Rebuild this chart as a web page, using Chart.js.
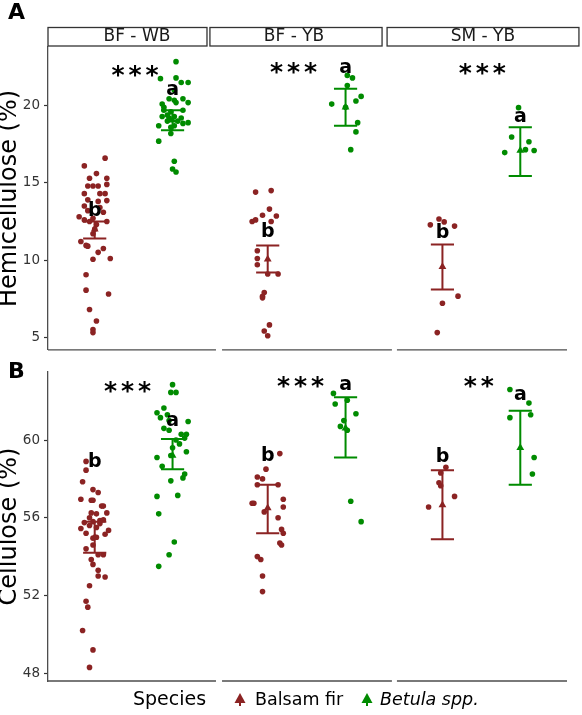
<!DOCTYPE html>
<html>
<head>
<meta charset="utf-8">
<script src="https://cdn.jsdelivr.net/npm/chart.js@4.4.0/dist/chart.umd.min.js"></script>
<style>
  body { margin: 0; background: #fff; }
  #wrap { position: relative; width: 582px; height: 715px; }
  .row { position: absolute; left: 0; width: 582px; }
</style>
</head>
<body>
<div id="wrap">
  <div class="row" style="top:0;height:362px"><canvas id="hemi"></canvas></div>
  <div class="row" style="top:358px;height:357px"><canvas id="cel"></canvas></div>
</div>
<script>
// facets and species
const facets = ['BF - WB', 'BF - YB', 'SM - YB'];
const species = ['Balsam fir', 'Betula spp.'];
const letters = [['b', 'b', 'b'], ['a', 'a', 'a']];
const hemiStars = ['***', '***', '***'];
const celStars = ['***', '***', '**'];
const hemiTicks = [5, 10, 15, 20];
const celTicks = [48, 52, 56, 60];

// Hemicellulose (%) - one list per facet
const hemiFir = [
    [16.6, 16.1, 15.6, 15.3, 15.3, 14.8, 14.8, 14.8, 14.9, 14.3, 14.3, 14.3, 13.9, 13.8, 13.85, 13.5, 13.4, 13.2, 13.1, 12.8, 12.6, 12.5, 12.5, 12.7, 12.3, 12.0, 11.7, 11.2, 10.95, 10.9, 10.75, 10.5, 10.05, 10.1, 9.05, 8.05, 7.8, 6.8, 6.05, 5.5, 5.3],
    [14.4, 14.5, 13.3, 12.9, 12.85, 12.5, 12.6, 12.5, 10.6, 10.1, 9.7, 9.1, 9.1, 7.9, 7.65, 7.55, 5.8, 5.4, 5.1],
    [12.66, 12.47, 12.28, 12.2, 7.66, 7.2, 5.3]
];
const hemiBirch = [
    [22.85, 21.75, 21.8, 21.5, 21.5, 21.0, 20.45, 20.35, 20.45, 20.2, 20.1, 20.2, 19.9, 19.7, 19.7, 19.6, 19.3, 19.2, 19.3, 19.2, 18.7, 19.0, 18.85, 18.9, 18.7, 18.6, 18.2, 17.7, 16.4, 15.9, 15.7, 19.0, 19.4],
    [21.96, 21.8, 21.3, 20.6, 20.1, 20.3, 19.9, 18.9, 18.3, 17.15],
    [19.87, 17.97, 17.66, 16.96, 17.15, 17.1]
];
// horizontal jitter (x units)
const hemiFirJit = [
    [0.06, -0.06, 0.01, -0.03, 0.07, -0.04, -0.01, 0.02, 0.07, -0.06, 0.03, 0.06, -0.04, 0.02, 0.07, -0.06, 0.03, -0.04, 0.05, -0.09, -0.06, -0.03, 0.07, -0.01, 0.01, 0, -0.01, -0.08, -0.05, -0.04, 0.05, 0.02, -0.01, 0.09, -0.05, -0.05, 0.08, -0.03, 0.01, -0.01, -0.01],
    [-0.07, 0.02, 0.01, -0.03, 0.05, -0.09, -0.07, 0.02, -0.06, -0.06, -0.06, 0, 0.06, -0.02, -0.03, -0.03, 0.01, -0.02, 0],
    [-0.02, 0.01, -0.07, 0.07, 0.09, 0, -0.03]
];
const hemiBirchJit = [
    [0.02, -0.07, 0.02, 0.05, 0.09, 0.01, -0.02, 0.01, 0.06, 0.09, -0.06, 0.02, -0.05, -0.05, 0.06, -0.01, -0.06, -0.02, 0.01, 0.05, -0.08, -0.03, 0.06, 0.09, 0.01, -0.01, -0.01, -0.08, 0.01, 0, 0.02, 0.03, -0.03],
    [0.01, 0.04, 0.01, 0.09, -0.08, 0.06, 0, 0.07, 0.06, 0.03],
    [-0.01, -0.05, 0.05, -0.09, 0.03, 0.08]
];
const hemiMean = [[12.0, 10.05, 9.56], [19.05, 19.9, 17.1]];
const hemiLow = [[11.4, 9.2, 8.1], [18.4, 18.7, 15.45]];
const hemiHigh = [[12.5, 10.95, 11.0], [19.7, 21.1, 18.6]];

// Cellulose (%)
const celFir = [
    [58.9, 58.45, 57.85, 57.45, 57.3, 56.95, 56.9, 56.9, 56.6, 56.6, 56.25, 56.2, 56.25, 55.75, 55.8, 55.85, 55.45, 55.2, 55.35, 55.15, 54.95, 55.5, 55.6, 54.4, 54.6, 54.1, 54.1, 53.85, 53.6, 53.3, 53.0, 52.95, 52.5, 51.7, 51.4, 50.2, 49.2, 48.3, 55.0, 55.7, 56.0, 55.9],
    [59.3, 58.5, 58.1, 58.0, 57.7, 57.7, 56.95, 56.75, 56.75, 56.55, 56.0, 55.4, 55.2, 54.7, 54.6, 54.0, 53.85, 53.0, 52.2, 56.3],
    [58.6, 58.3, 57.8, 57.65, 57.1, 56.55]
];
const celBirch = [
    [62.85, 62.45, 62.45, 61.65, 61.4, 61.15, 61.0, 60.95, 60.6, 60.5, 60.3, 60.3, 60.1, 59.6, 59.4, 59.1, 59.2, 58.65, 58.25, 58.05, 57.9, 57.1, 57.15, 56.2, 54.75, 54.1, 53.5, 61.3, 60.0, 59.8],
    [62.4, 61.85, 62.05, 61.35, 61.0, 60.7, 60.5, 56.85, 55.8],
    [62.6, 61.9, 61.15, 61.3, 59.1, 58.25]
];
const celFirJit = [
    [-0.05, -0.05, -0.07, -0.01, 0.02, -0.08, -0.02, -0.01, 0.04, 0.05, -0.02, 0.01, 0.07, -0.06, -0.01, 0.03, -0.08, -0.05, 0.08, 0.06, -0.01, 0.01, -0.03, -0.05, -0.01, 0.02, 0.05, -0.02, -0.01, 0.02, 0.02, 0.06, -0.03, -0.05, -0.04, -0.07, -0.01, -0.03, 0.01, 0.03, -0.03, 0.05],
    [0.07, -0.01, -0.06, -0.03, -0.06, 0.06, 0.09, -0.09, -0.08, 0.09, 0.06, 0.08, 0.09, 0.07, 0.08, -0.06, -0.04, -0.03, -0.03, -0.02],
    [0.02, -0.01, -0.02, -0.01, 0.07, -0.08]
];
const celBirchJit = [
    [0, -0.01, 0.02, -0.05, -0.09, -0.07, -0.02, 0.09, -0.05, -0.02, 0.05, 0.08, 0.07, 0, 0.08, -0.09, -0.01, -0.06, 0.07, 0.06, -0.01, -0.09, 0.03, -0.08, 0.01, -0.02, -0.08, -0.03, 0.02, 0.04],
    [-0.07, -0.06, 0.01, 0.06, -0.01, -0.03, 0.01, 0.03, 0.09],
    [-0.06, 0.05, -0.06, 0.06, 0.08, 0.07]
];
const celMean = [[55.0, 56.5, 56.65], [59.2, 60.6, 59.6]];
const celLow = [[54.2, 55.2, 54.9], [58.5, 59.1, 57.7]];
const celHigh = [[55.8, 57.7, 58.45], [60.05, 62.2, 61.5]];

// ---- layout / style ----
const FONT = "'DejaVu Sans', sans-serif";
const colors = ['#8b2323', '#008b00'];
const axisColor = '#4d4d4d';
const facetBase = [0, 1, 2.01];
const spPos = [0.27, 0.72];
const capW = 0.067;
const panelSpans = [[0, 0.971], [1.006, 1.988], [2.017, 3]];

Chart.defaults.font.family = FONT;

function decor(cfg) {
    return {
        id: 'decor',
        afterDraw(chart) {
            const ctx = chart.ctx;
            const xs = chart.scales.x, ys = chart.scales.y, ca = chart.chartArea;
            ctx.save();

            // broken x axis line, one piece per facet
            ctx.strokeStyle = axisColor;
            ctx.lineWidth = 1.3;
            panelSpans.forEach(([a, b]) => {
                ctx.beginPath();
                ctx.moveTo(xs.getPixelForValue(a), ca.bottom);
                ctx.lineTo(xs.getPixelForValue(b), ca.bottom);
                ctx.stroke();
            });

            // facet strips (top row only)
            if (cfg.strips) {
                ctx.font = '17px ' + FONT;
                ctx.textAlign = 'center';
                ctx.textBaseline = 'middle';
                cfg.strips.forEach(([a, b, mid], i) => {
                    const x0 = xs.getPixelForValue(a), x1 = xs.getPixelForValue(b);
                    ctx.fillStyle = '#fff';
                    ctx.fillRect(x0, 27.5, x1 - x0, 18.5);
                    ctx.strokeStyle = '#333';
                    ctx.lineWidth = 1.3;
                    ctx.strokeRect(x0, 27.5, x1 - x0, 18.5);
                    ctx.fillStyle = '#1a1a1a';
                    ctx.fillText(facets[i], xs.getPixelForValue(mid), 37);
                });
            }

            // panel tag
            ctx.fillStyle = '#000';
            ctx.font = 'bold 22px ' + FONT;
            ctx.textAlign = 'left';
            ctx.textBaseline = 'alphabetic';
            ctx.fillText(cfg.tag, 8, cfg.tagY);

            // group letters
            ctx.font = 'bold 19px ' + FONT;
            ctx.textAlign = 'center';
            ctx.textBaseline = 'middle';
            for (let s = 0; s < 2; s++) {
                for (let f = 0; f < 3; f++) {
                    ctx.fillText(letters[s][f],
                        xs.getPixelForValue(facetBase[f] + spPos[s]),
                        ys.getPixelForValue(cfg.letterY[s][f]));
                }
            }

            // significance stars, one glyph at a time for the wide spacing
            ctx.font = 'bold 25px ' + FONT;
            cfg.stars.forEach((t, f) => {
                const cx = xs.getPixelForValue(cfg.starX[f]);
                const cy = ys.getPixelForValue(cfg.starY[f]) + 6;
                const n = t.length;
                for (let k = 0; k < n; k++) {
                    ctx.fillText('*', cx + (k - (n - 1) / 2) * 17, cy);
                }
            });

            // legend
            if (cfg.legend) {
                const ly = cfg.legendY;
                ctx.textAlign = 'left';
                ctx.fillStyle = '#000';
                ctx.font = '19px ' + FONT;
                ctx.fillText('Species', 133, ly);
                const keys = [[240, 255, ''], [367, 380, 'italic ']];
                keys.forEach(([kx, tx, style], s) => {
                    ctx.strokeStyle = colors[s];
                    ctx.lineWidth = 2;
                    ctx.beginPath();
                    ctx.moveTo(kx, ly - 2);
                    ctx.lineTo(kx, ly + 6);
                    ctx.stroke();
                    ctx.fillStyle = colors[s];
                    ctx.beginPath();
                    ctx.moveTo(kx, ly - 7);
                    ctx.lineTo(kx + 5.5, ly + 3);
                    ctx.lineTo(kx - 5.5, ly + 3);
                    ctx.closePath();
                    ctx.fill();
                    ctx.fillStyle = '#000';
                    ctx.font = style + '17.5px ' + FONT;
                    ctx.fillText(species[s], tx, ly);
                });
            }
            ctx.restore();
        }
    };
}

function buildRow(canvasId, d) {
    const datasets = [];

    // error bars (drawn on top)
    for (let s = 0; s < 2; s++) {
        const pts = [];
        for (let f = 0; f < 3; f++) {
            const x = facetBase[f] + spPos[s];
            const lo = d.low[s][f], hi = d.high[s][f];
            pts.push({ x: x - capW, y: lo }, { x: x + capW, y: lo }, { x: x, y: null });
            pts.push({ x: x - capW, y: hi }, { x: x + capW, y: hi }, { x: x, y: null });
            pts.push({ x: x, y: lo }, { x: x, y: hi }, { x: x, y: null });
        }
        datasets.push({
            data: pts,
            showLine: true,
            spanGaps: false,
            borderColor: colors[s],
            borderWidth: 2,
            pointRadius: 0
        });
    }

    // means
    for (let s = 0; s < 2; s++) {
        datasets.push({
            data: d.mean[s].map((m, f) => ({ x: facetBase[f] + spPos[s], y: m })),
            pointStyle: 'triangle',
            pointRadius: 4.5,
            backgroundColor: colors[s],
            borderColor: colors[s],
            borderWidth: 0
        });
    }

    // jittered observations
    for (let s = 0; s < 2; s++) {
        const pts = [];
        d.values[s].forEach((list, f) => {
            list.forEach((v, i) => {
                pts.push({ x: facetBase[f] + spPos[s] + d.jitter[s][f][i], y: v });
            });
        });
        datasets.push({
            data: pts,
            pointRadius: 2.8,
            backgroundColor: colors[s],
            borderWidth: 0
        });
    }

    return new Chart(document.getElementById(canvasId), {
        type: 'scatter',
        data: { datasets: datasets },
        options: {
            responsive: true,
            maintainAspectRatio: false,
            animation: false,
            events: [],
            layout: { padding: d.padding },
            plugins: { legend: { display: false }, tooltip: { enabled: false } },
            scales: {
                x: { type: 'linear', min: 0, max: 3, display: false },
                y: {
                    min: d.min,
                    max: d.max,
                    afterBuildTicks: scale => { scale.ticks = d.ticks.map(v => ({ value: v })); },
                    afterFit: scale => { scale.width = 48; },
                    grid: { display: true, drawOnChartArea: false, drawTicks: true, tickLength: 4, tickColor: '#333', tickWidth: 1.2 },
                    border: { display: true, color: axisColor, width: 1.3 },
                    ticks: { color: '#333', font: { size: 13.5 }, padding: 4 },
                    title: { display: true, text: d.title, color: '#000', font: { size: 24, lineHeight: 0.85 }, padding: 0 }
                }
            }
        },
        plugins: [decor(d.decor)]
    });
}

buildRow('hemi', {
    values: [hemiFir, hemiBirch],
    jitter: [hemiFirJit, hemiBirchJit],
    mean: hemiMean, low: hemiLow, high: hemiHigh,
    min: 4.18, max: 23.8, ticks: hemiTicks,
    title: 'Hemicellulose (%)',
    padding: { top: 47, bottom: 5, left: 0, right: 15 },
    decor: {
        tag: 'A', tagY: 19,
        strips: [[0, 0.919, 0.514], [0.936, 1.931, 1.422], [1.96, 3.069, 2.514]],
        letterY: [[13.2, 11.84, 11.77], [21.0, 22.44, 19.24]],
        stars: hemiStars, starX: [0.503, 1.42, 2.51], starY: [22.28, 22.47, 22.4]
    }
});

buildRow('cel', {
    values: [celFir, celBirch],
    jitter: [celFirJit, celBirchJit],
    mean: celMean, low: celLow, high: celHigh,
    min: 47.6, max: 63.5, ticks: celTicks,
    title: 'Cellulose (%)',
    padding: { top: 14, bottom: 34, left: 0, right: 15 },
    decor: {
        tag: 'B', tagY: 20,
        letterY: [[58.89, 59.15, 59.12], [61.0, 62.81, 62.29]],
        stars: celStars, starX: [0.46, 1.46, 2.49], starY: [62.76, 62.99, 63.0],
        legend: true, legendY: 342
    }
});
</script>
</body>
</html>
